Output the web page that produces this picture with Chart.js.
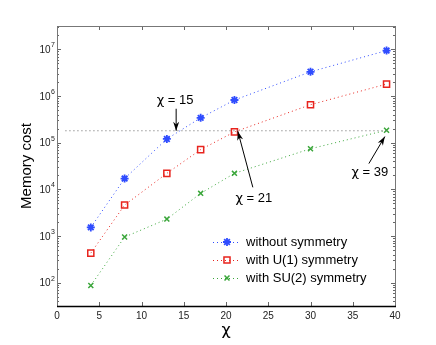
<!DOCTYPE html>
<html><head><meta charset="utf-8">
<script src="https://cdn.jsdelivr.net/npm/chart.js@4"></script>
<style>html,body{margin:0;padding:0;background:#fff}#wrap{width:436px;height:345px}</style>
</head><body><div id="wrap"><canvas id="c" width="436" height="345"></canvas></div>
<script>
const chi = [4, 8, 13, 17, 21, 30, 39];
const noSym = [1530, 17000, 120000, 340000, 820000, 3300000, 9400000];
const u1Sym = [430, 4600, 22000, 71000, 170000, 650000, 1800000];
const su2Sym = [87, 950, 2300, 8200, 22000, 74000, 185000];
const seriesNames = ['without symmetry', 'with U(1) symmetry', 'with SU(2) symmetry'];
const thresholdX = [1, 39];
const thresholdY = [180000, 180000];
const xTicks = [0, 5, 10, 15, 20, 25, 30, 35, 40];
const yTicks = [1e2, 1e3, 1e4, 1e5, 1e6, 1e7];
const yTickExp = ['2', '3', '4', '5', '6', '7'];
// annotations: value, arrow tip (data), tail offset px, text offset px
const notes = [
  {value: '15', x: 14.1, y: 180000, tail: [0, -22], text: [-1, -30]},
  {value: '21', x: 21.4, y: 175000, tail: [15, 56], text: [16, 67]},
  {value: '39', x: 38.8, y: 135000, tail: [-16, 27], text: [-15, 36]}
];

const FONT = '"Liberation Sans", Arial, Helvetica, sans-serif';
const CHIFONT = '"DejaVu Sans", sans-serif';
const mk = (ys) => chi.map((x, i) => ({x, y: ys[i]}));
const colors = ['#2f4cff', '#e8241e', '#3aa63a'];
const styles = ['star', 'rect', 'crossRot'];
const radii = [4, 4.3, 3.5];
const fills = ['#2f4cff', 'rgba(0,0,0,0)', '#3aa63a'];

const ds = [noSym, u1Sym, su2Sym].map((arr, i) => ({
  label: seriesNames[i], data: mk(arr), showLine: true,
  borderColor: colors[i], backgroundColor: colors[i],
  borderWidth: 1, borderDash: [1, 3],
  pointStyle: styles[i], pointRadius: radii[i], pointBorderWidth: i === 0 ? 1.8 : 1.5,
  pointBackgroundColor: fills[i], pointBorderColor: colors[i]
}));
ds.unshift({label: 'threshold', data: thresholdX.map((x, i) => ({x, y: thresholdY[i]})), showLine: true,
  borderColor: '#666', borderWidth: 1, borderDash: [1, 3], pointRadius: 0});

function arrow(ctx, x0, y0, x1, y1) {
  ctx.beginPath(); ctx.moveTo(x0, y0); ctx.lineTo(x1, y1); ctx.stroke();
  const a = Math.atan2(y1 - y0, x1 - x0), L = 9, W = 3;
  ctx.beginPath();
  ctx.moveTo(x1, y1);
  ctx.lineTo(x1 - L * Math.cos(a) + W * Math.sin(a), y1 - L * Math.sin(a) - W * Math.cos(a));
  ctx.lineTo(x1 - L * 0.7 * Math.cos(a), y1 - L * 0.7 * Math.sin(a));
  ctx.lineTo(x1 - L * Math.cos(a) - W * Math.sin(a), y1 - L * Math.sin(a) + W * Math.cos(a));
  ctx.closePath(); ctx.fill();
}

function chiLabel(ctx, value, cx, cy) {
  const f1 = '13px ' + CHIFONT, f2 = '13px ' + FONT;
  ctx.font = f1; const w1 = ctx.measureText('\u03C7').width;
  ctx.font = f2; const w2 = ctx.measureText(' = ' + value).width;
  const x0 = cx - (w1 + w2) / 2;
  ctx.textAlign = 'left'; ctx.textBaseline = 'middle';
  ctx.font = f1; ctx.fillText('\u03C7', x0, cy);
  ctx.font = f2; ctx.fillText(' = ' + value, x0 + w1, cy);
}

const deco = {
  id: 'deco',
  afterDatasetsDraw(chart) {
    const {ctx, chartArea: a, scales: {x, y}} = chart;
    ctx.save();
    // y tick labels 10^n
    ctx.fillStyle = '#222'; ctx.textBaseline = 'middle';
    yTicks.forEach((v, i) => {
      const py = y.getPixelForValue(v);
      ctx.font = '7px ' + FONT; ctx.textAlign = 'right';
      const we = ctx.measureText(yTickExp[i]).width;
      ctx.fillText(yTickExp[i], a.left - 2, py - 4);
      ctx.font = '10px ' + FONT;
      ctx.fillText('10', a.left - 2 - we - 0.5, py + 1);
    });
    // ticks
    ctx.strokeStyle = '#666'; ctx.lineWidth = 1;
    ctx.beginPath();
    xTicks.forEach(v => {
      const px = Math.round(x.getPixelForValue(v)) + 0.5;
      ctx.moveTo(px, a.bottom); ctx.lineTo(px, a.bottom - 4);
      ctx.moveTo(px, a.top); ctx.lineTo(px, a.top + 4);
    });
    for (let e = 1; e <= 7; e++) {
      for (let m = 1; m <= 9; m++) {
        const v = m * Math.pow(10, e);
        if (v < y.min || v > y.max) continue;
        const py = Math.round(y.getPixelForValue(v)) + 0.5;
        const len = m === 1 ? 4 : 2;
        ctx.moveTo(a.left, py); ctx.lineTo(a.left + len, py);
        ctx.moveTo(a.right, py); ctx.lineTo(a.right - len, py);
      }
    }
    ctx.stroke();
    // frame
    ctx.strokeStyle = '#777';
    ctx.beginPath();
    ctx.moveTo(Math.round(a.left) + 0.5, a.bottom); ctx.lineTo(Math.round(a.left) + 0.5, Math.round(a.top) + 0.5);
    ctx.lineTo(Math.round(a.right) + 0.5, Math.round(a.top) + 0.5); ctx.lineTo(Math.round(a.right) + 0.5, a.bottom);
    ctx.stroke();
    ctx.strokeStyle = '#000'; ctx.lineWidth = 1.5;
    ctx.beginPath(); ctx.moveTo(a.left, Math.round(a.bottom) + 0.5); ctx.lineTo(a.right + 1, Math.round(a.bottom) + 0.5); ctx.stroke();
    // annotations
    ctx.strokeStyle = '#000'; ctx.fillStyle = '#000'; ctx.lineWidth = 1;
    notes.forEach(n => {
      const px = x.getPixelForValue(n.x), py = y.getPixelForValue(n.y);
      arrow(ctx, px + n.tail[0], py + n.tail[1], px, py);
      chiLabel(ctx, n.value, px + n.text[0], py + n.text[1]);
    });
    // legend
    const lx = a.left + 156, ly = a.top + 216;
    ctx.textAlign = 'left'; ctx.textBaseline = 'middle';
    for (let i = 0; i < 3; i++) {
      const d = chart.data.datasets[i + 1], yy = ly + i * 18;
      ctx.strokeStyle = d.borderColor; ctx.lineWidth = 1; ctx.setLineDash([1, 3]);
      ctx.beginPath(); ctx.moveTo(lx, yy + 0.5); ctx.lineTo(lx + 27, yy + 0.5); ctx.stroke();
      ctx.setLineDash([]);
      ctx.strokeStyle = d.pointBorderColor; ctx.fillStyle = d.pointBackgroundColor; ctx.lineWidth = d.pointBorderWidth;
      Chart.helpers.drawPoint(ctx, {pointStyle: d.pointStyle, radius: d.pointRadius, borderWidth: d.pointBorderWidth, rotation: 0}, lx + 14, yy);
      ctx.fillStyle = '#000';
      ctx.font = '13px ' + FONT;
      ctx.fillText(d.label, lx + 33, yy);
    }
    ctx.restore();
  }
};

new Chart(document.getElementById('c'), {
  type: 'scatter',
  data: {datasets: ds},
  options: {
    responsive: false, animation: false,
    layout: {padding: {left: 0, right: 41, top: 26, bottom: 0}},
    plugins: {legend: {display: false}, tooltip: {enabled: false}},
    scales: {
      x: {type: 'linear', min: 0, max: 40,
        afterBuildTicks: s => { s.ticks = xTicks.map(v => ({value: v})); },
        afterFit: s => { s.height = 39; },
        grid: {display: false, drawTicks: false}, border: {display: false},
        ticks: {padding: 4, color: '#222', font: {family: FONT, size: 10}, maxRotation: 0},
        title: {display: true, text: '\u03C7', color: '#000', font: {family: CHIFONT, size: 16}, padding: {top: 0, bottom: 5}}
      },
      y: {type: 'logarithmic', min: Math.pow(10, 1.5), max: Math.pow(10, 7.5),
        afterBuildTicks: s => { s.ticks = yTicks.map(v => ({value: v})); },
        afterFit: s => { s.width = 57; },
        grid: {display: false, drawTicks: false}, border: {display: false},
        ticks: {display: false},
        title: {display: true, text: 'Memory cost', color: '#000', font: {family: FONT, size: 15}, padding: {top: 18, bottom: 0}}
      }
    }
  },
  plugins: [deco]
});
</script></body></html>
